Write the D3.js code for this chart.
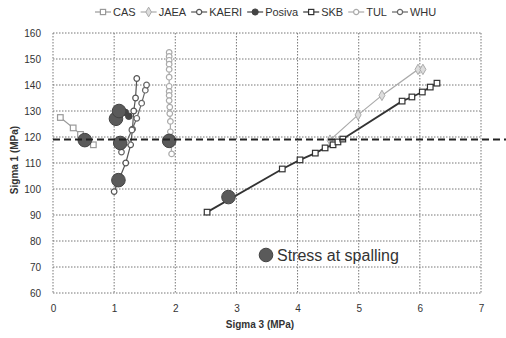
<!DOCTYPE html>
<html>
<head>
<meta charset="utf-8">
<script src="https://cdn.jsdelivr.net/npm/d3@7"></script>
<style>
  html, body { margin: 0; padding: 0; background: #fff; overflow: hidden; }
  svg { display: block; font-family: "Liberation Sans", Arial, sans-serif; }
</style>
</head>
<body>
<div id="chart"></div>
<script>
// data
const casX = [0.12, 0.33, 0.45, 0.66];
const casY = [127.5, 123.5, 121, 117];
const jaeaX = [4.53, 4.99, 5.38, 5.97, 6.05];
const jaeaY = [118.8, 128.5, 136, 146, 146];
const kaeriX = [1.0, 1.19, 1.27, 1.3, 1.32, 1.35, 1.37];
const kaeriY = [99, 110, 117, 123, 130, 135, 142.5];
const posivaX = [1.07, 1.18, 1.24];
const posivaY = [130.5, 129.5, 128];
const skbX = [2.52, 3.75, 4.04, 4.29, 4.45, 4.58, 4.66, 4.74, 5.71, 5.87, 6.04, 6.17, 6.28];
const skbY = [91.1, 107.7, 111.2, 113.8, 115.8, 117, 118.1, 119.2, 133.8, 135.4, 137.3, 139.2, 140.7];
const tulX = [1.9, 1.9, 1.9, 1.9, 1.9, 1.9, 1.9, 1.9, 1.9, 1.9, 1.91, 1.91, 1.92, 1.92, 1.94];
const tulY = [152.5, 151, 149.5, 148, 146, 143, 139.5, 137.5, 136, 134, 131.5, 129, 126, 122, 113.5];
const whuX = [1.12, 1.2, 1.29, 1.37, 1.45, 1.51, 1.53];
const whuY = [114.2, 118, 122.7, 127.2, 133, 138, 140];
const spallX = [0.52, 1.03, 1.08, 1.1, 1.07, 1.9, 2.87];
const spallY = [118.8, 127, 130, 117.7, 103.4, 118.5, 96.9];
const limitY = 119;
const xTicks = [0, 1, 2, 3, 4, 5, 6, 7];
const yTicks = [60, 70, 80, 90, 100, 110, 120, 130, 140, 150, 160];

const series = [
  { name: 'CAS', xs: casX, ys: casY, color: '#999', marker: 'square' },
  { name: 'JAEA', xs: jaeaX, ys: jaeaY, color: '#aaa', marker: 'diamond' },
  { name: 'KAERI', xs: kaeriX, ys: kaeriY, color: '#555', marker: 'circle' },
  { name: 'Posiva', xs: posivaX, ys: posivaY, color: '#444', marker: 'dot' },
  { name: 'SKB', xs: skbX, ys: skbY, color: '#333', marker: 'square' },
  { name: 'TUL', xs: tulX, ys: tulY, color: '#aaa', marker: 'circle' },
  { name: 'WHU', xs: whuX, ys: whuY, color: '#666', marker: 'circle' }
];

const width = 506, height = 338;
const margin = { top: 33, right: 25, bottom: 45, left: 53 };
const innerWidth = width - margin.left - margin.right;
const innerHeight = height - margin.top - margin.bottom;

const svg = d3.select('#chart').append('svg')
  .attr('width', width)
  .attr('height', height);

const g = svg.append('g').attr('transform', `translate(${margin.left},${margin.top})`);

const x = d3.scaleLinear().domain([0, 7]).range([0, innerWidth]);
const y = d3.scaleLinear().domain([60, 160]).range([innerHeight, 0]);

// grid
g.append('g').selectAll('line').data(xTicks).enter().append('line')
  .attr('x1', d => x(d)).attr('x2', d => x(d))
  .attr('y1', 0).attr('y2', innerHeight)
  .attr('stroke', '#777').attr('stroke-width', 1).attr('stroke-dasharray', '1.5,1.5');
g.append('g').selectAll('line').data(yTicks).enter().append('line')
  .attr('x1', 0).attr('x2', innerWidth)
  .attr('y1', d => y(d)).attr('y2', d => y(d))
  .attr('stroke', '#777').attr('stroke-width', 1).attr('stroke-dasharray', '1.5,1.5');

// axes (labels only)
const xAxis = g.append('g')
  .attr('transform', `translate(0,${innerHeight})`)
  .call(d3.axisBottom(x).tickValues(xTicks).tickFormat(d3.format('d')).tickSize(0).tickPadding(12))
  .attr('font-family', null);
xAxis.select('.domain').remove();
xAxis.selectAll('text').style('font-size', '10px').style('fill', '#333');

const yAxis = g.append('g')
  .call(d3.axisLeft(y).tickValues(yTicks).tickFormat(d3.format('d')).tickSize(0).tickPadding(12))
  .attr('font-family', null);
yAxis.select('.domain').remove();
yAxis.selectAll('text').style('font-size', '10px').style('fill', '#333');

// axis titles
svg.append('text')
  .attr('x', margin.left + innerWidth / 2 - 7).attr('y', 328)
  .attr('text-anchor', 'middle')
  .style('font-size', '10px').style('font-weight', 'bold').style('fill', '#333')
  .text('Sigma 3 (MPa)');
svg.append('text')
  .attr('transform', `translate(18,${margin.top + innerHeight / 2 - 3}) rotate(-90)`)
  .attr('text-anchor', 'middle')
  .style('font-size', '10px').style('font-weight', 'bold').style('fill', '#333')
  .text('Sigma 1 (MPa)');

// marker helper
function drawMarker(sel, type, color, size) {
  if (type === 'square') {
    sel.append('rect')
      .attr('x', -size).attr('y', -size).attr('width', size * 2).attr('height', size * 2)
      .attr('fill', '#fff').attr('stroke', color).attr('stroke-width', 1.2);
  } else if (type === 'diamond') {
    sel.append('path')
      .attr('d', d3.symbol(d3.symbolDiamond, size * size * 4)())
      .attr('fill', '#ddd').attr('stroke', color).attr('stroke-width', 1);
  } else if (type === 'dot') {
    sel.append('circle').attr('r', size + 0.5)
      .attr('fill', color).attr('stroke', color);
  } else {
    sel.append('circle').attr('r', size)
      .attr('fill', '#fff').attr('stroke', color).attr('stroke-width', 1.2);
  }
}

const line = d3.line().x(d => x(d[0])).y(d => y(d[1]));

series.forEach(s => {
  const pts = s.xs.map((v, i) => [v, s.ys[i]]);
  g.append('path')
    .datum(pts)
    .attr('d', line)
    .attr('fill', 'none')
    .attr('stroke', s.color)
    .attr('stroke-width', s.name === 'SKB' ? 1.8 : 1.2);
  g.append('g').selectAll('g').data(pts).enter().append('g')
    .attr('transform', d => `translate(${x(d[0])},${y(d[1])})`)
    .each(function () { drawMarker(d3.select(this), s.marker, s.color, 2.8); });
});

// spalling points
g.append('g').selectAll('circle')
  .data(spallX.map((v, i) => [v, spallY[i]]))
  .enter().append('circle')
  .attr('cx', d => x(d[0])).attr('cy', d => y(d[1]))
  .attr('r', 6.8)
  .attr('fill', '#5a5a5a').attr('stroke', '#444').attr('stroke-width', 1);

// threshold dashed line, runs past plot to page edge
g.append('line')
  .attr('x1', 0).attr('x2', width - margin.left)
  .attr('y1', y(limitY)).attr('y2', y(limitY))
  .attr('stroke', '#222').attr('stroke-width', 2).attr('stroke-dasharray', '7,4');

// "Stress at spalling" note
svg.append('circle').attr('cx', 266).attr('cy', 255).attr('r', 6.8)
  .attr('fill', '#5a5a5a').attr('stroke', '#444');
svg.append('text').attr('x', 277).attr('y', 261)
  .style('font-size', '16px').style('fill', '#333')
  .text('Stress at spalling');

// legend, laid out left to right from measured text widths
const legend = svg.append('g');
let lx = 95;
series.forEach(s => {
  const lg = legend.append('g').attr('transform', `translate(${lx},12)`);
  lg.append('line').attr('x1', 0).attr('x2', 16).attr('y1', 0).attr('y2', 0)
    .attr('stroke', s.color).attr('stroke-width', 1.2);
  const m = lg.append('g').attr('transform', 'translate(8,0)');
  drawMarker(m, s.marker, s.color, 2.6);
  const t = lg.append('text').attr('x', 18).attr('y', 4)
    .style('font-size', '11px').style('fill', '#333')
    .text(s.name);
  lx += 18 + t.node().getComputedTextLength() + 5;
});
</script>
</body>
</html>
